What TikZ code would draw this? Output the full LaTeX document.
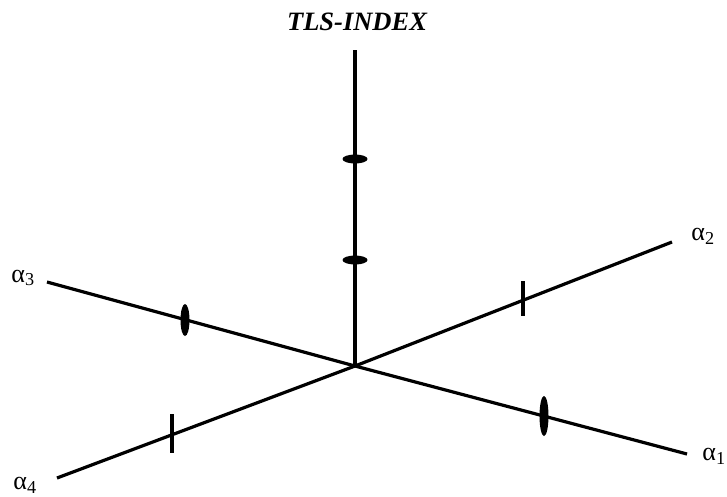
\documentclass[tikz,border=0pt]{standalone}
\usepackage{fontspec}
\setmainfont{Liberation Serif}
\usetikzlibrary{shapes.geometric}
\begin{document}
\begin{tikzpicture}[x=1pt,y=-1pt,
  axis/.style={line width=3.2pt},
  hdot/.style={ellipse, fill=black, inner sep=0pt, minimum width=25pt, minimum height=9pt},
  vdot/.style={ellipse, fill=black, inner sep=0pt, minimum width=9pt, minimum height=#1},
  vbar/.style={rectangle, fill=black, inner sep=0pt, minimum width=4.5pt, minimum height=#1},
  lab/.style={font=\fontsize{26}{26}\selectfont, inner sep=0pt},
  ttl/.style={font=\fontsize{26.5}{26.5}\selectfont\bfseries\itshape, inner sep=0pt}]
\useasboundingbox (0,0) rectangle (727,496);
\coordinate (O) at (355,366);
\coordinate (top) at (355,50);
\coordinate (e1) at (687,454);
\coordinate (e2) at (672,242);
\coordinate (e3) at (47,282);
\coordinate (e4) at (57,478);
\draw[axis] (O) -- (top);
\draw[axis] (O) -- (e1);
\draw[axis] (O) -- (e2);
\draw[axis] (O) -- (e3);
\draw[axis] (O) -- (e4);
\node[hdot] (t1) at (355,159) {};
\node[hdot] (t2) at (355,260) {};
\node[vdot=32pt] (t3) at (185,320) {};
\node[vdot=40pt] (t4) at (544,416) {};
\node[vbar=35pt] (t5) at (523,298) {};
\node[vbar=39pt] (t6) at (172,433) {};
\node[ttl] (title) at (357,22) {TLS-INDEX};
\node[lab] (l1) at (714,456) {α\textsubscript{1}};
\node[lab] (l2) at (703,236) {α\textsubscript{2}};
\node[lab] (l3) at (23,278) {α\textsubscript{3}};
\node[lab] (l4) at (25,485) {α\textsubscript{4}};
\end{tikzpicture}
\end{document}
